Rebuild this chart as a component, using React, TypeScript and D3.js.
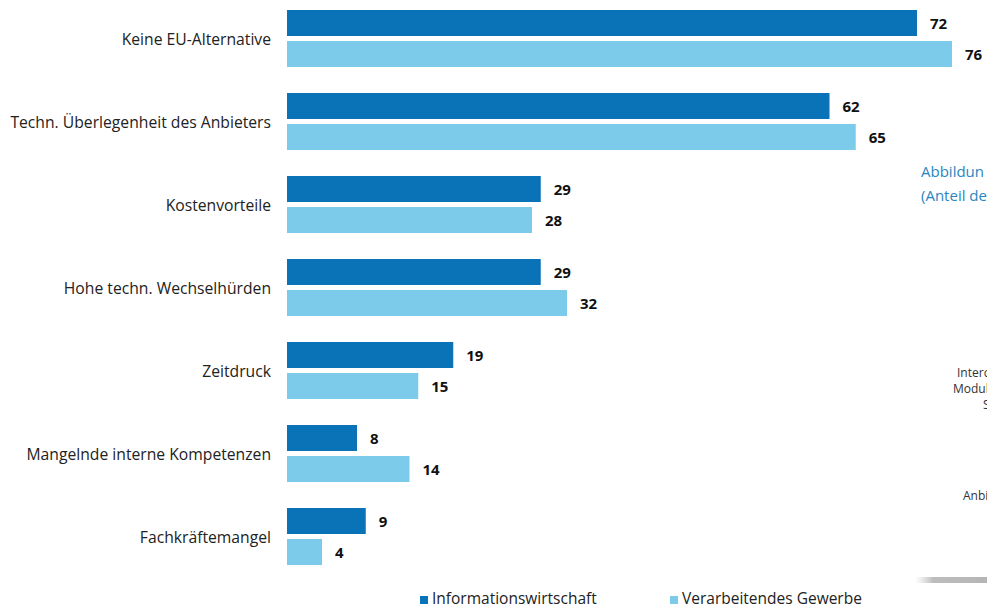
import React from "react";
import * as d3 from "d3";

const categories = [
  "Keine EU-Alternative",
  "Techn. Überlegenheit des Anbieters",
  "Kostenvorteile",
  "Hohe techn. Wechselhürden",
  "Zeitdruck",
  "Mangelnde interne Kompetenzen",
  "Fachkräftemangel",
];
const seriesNames = ["Informationswirtschaft", "Verarbeitendes Gewerbe"];
const infoValues = [72, 62, 29, 29, 19, 8, 9];
const verarbValues = [76, 65, 28, 32, 15, 14, 4];
const colors = ["#0a72b7", "#7ccbeb"];

const W = 987;
const H = 607;

export default function App() {
  const x = d3.scaleLinear().domain([0, 76]).range([287, 952]);
  const y = d3
    .scaleBand<string>()
    .domain(categories)
    .range([10, 565])
    .paddingInner(26 / 83)
    .paddingOuter(0);
  const inner = d3
    .scaleBand<string>()
    .domain(seriesNames)
    .range([0, y.bandwidth()])
    .paddingInner(5 / 31);
  const series = [infoValues, verarbValues];
  const font = "'Open Sans', 'Noto Sans', sans-serif";

  return (
    <svg
      width={W}
      height={H}
      style={{ position: "absolute", left: 0, top: 0, background: "#fff" }}
      fontFamily={font}
    >
      <defs>
        <linearGradient id="shadow" x1="0" x2="1" y1="0" y2="0">
          <stop offset="0" stopColor="#cfcfcf" stopOpacity="0" />
          <stop offset="0.25" stopColor="#bdbdbd" stopOpacity="1" />
          <stop offset="1" stopColor="#b5b5b5" stopOpacity="1" />
        </linearGradient>
      </defs>
      {categories.map((c, i) => {
        const y0 = y(c)!;
        return (
          <g key={c}>
            <text
              x={271}
              y={y0 + y.bandwidth() / 2}
              textAnchor="end"
              dominantBaseline="central"
              fontSize={15.7}
              fill="#222"
            >
              {c}
            </text>
            {series.map((vals, s) => {
              const by = y0 + inner(seriesNames[s])!;
              return (
                <g key={s}>
                  <rect
                    x={x(0)}
                    y={by}
                    width={x(vals[i]) - x(0)}
                    height={inner.bandwidth()}
                    fill={colors[s]}
                  />
                  <text
                    x={x(vals[i]) + 13}
                    y={by + inner.bandwidth() / 2}
                    dominantBaseline="central"
                    fontSize={15}
                    fontWeight="bold"
                    fill="#111"
                  >
                    {vals[i]}
                  </text>
                </g>
              );
            })}
          </g>
        );
      })}
      {/* legend */}
      {seriesNames.map((n, s) => {
        const lx = [420, 670][s];
        return (
          <g key={n}>
            <rect x={lx} y={596} width={8} height={8} fill={colors[s]} />
            <text x={lx + 12} y={604} fontSize={15.5} fill="#222">
              {n}
            </text>
          </g>
        );
      })}
      {/* fragments of neighbouring figure */}
      <text x={921} y={177} fontSize={15} fill="#2a86c2">
        Abbildun
      </text>
      <text x={921} y={201} fontSize={15} fill="#2a86c2">
        (Anteil de
      </text>
      <text x={957} y={372} dominantBaseline="central" fontSize={12} fill="#333">
        Interc
      </text>
      <text x={953} y={388} dominantBaseline="central" fontSize={12} fill="#333">
        Modul
      </text>
      <text x={983} y={404} dominantBaseline="central" fontSize={12} fill="#333">
        S
      </text>
      <text x={963} y={495} dominantBaseline="central" fontSize={12} fill="#333">
        Anbi
      </text>
      <rect x={915} y={577} width={72} height={6} fill="url(#shadow)" />
    </svg>
  );
}
